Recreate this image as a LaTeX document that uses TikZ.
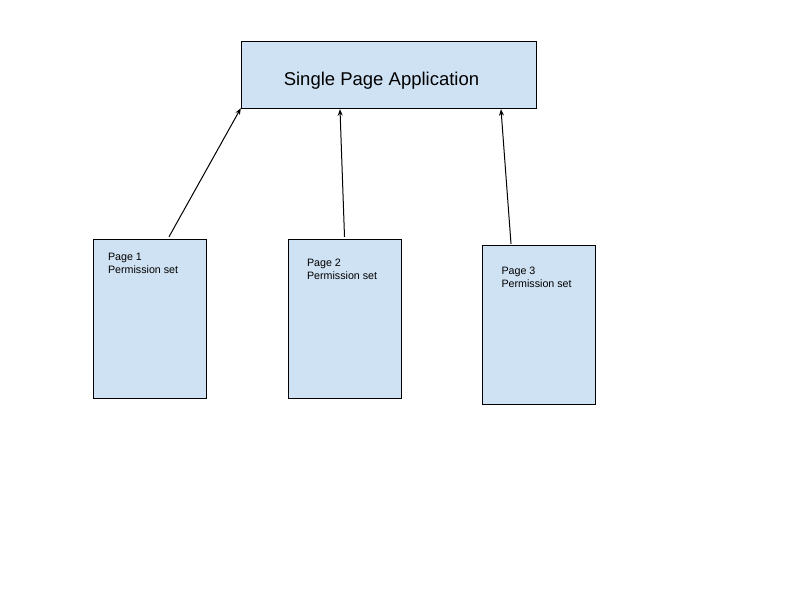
\documentclass[tikz,border=0pt]{standalone}
\usepackage{fontspec}
\setmainfont{Liberation Sans}
\usepackage{xcolor}
\usepackage{tikz}
\usetikzlibrary{arrows.meta, positioning}

\definecolor{boxblue}{HTML}{CFE2F3}

\begin{document}
\begin{tikzpicture}[
    x=1pt, y=-1pt,
    app/.style={rectangle, draw=black, thin, fill=boxblue, minimum width=295pt, minimum height=67pt, inner sep=0pt},
    apptext/.style={anchor=center, inner sep=0pt, font=\fontsize{18.5}{22}\selectfont},
    page/.style={rectangle, draw=black, thin, fill=boxblue, minimum width=113pt, minimum height=159pt, inner sep=0pt},
    pagetext/.style={anchor=north west, inner sep=0pt, align=left, font=\fontsize{10.7}{13}\selectfont},
    arrow/.style={line width=1pt, -{Stealth[length=6.5pt, width=5pt]}}
]

% Page size
\useasboundingbox (0,0) rectangle (800,600);

% ===== APPLICATION =====
\node[app, label={[apptext, xshift=-7pt, yshift=-6pt]center:Single Page Application}] (spa) at (388.5, 74.5) {};

% ===== PAGES =====
\node[page, label={[pagetext, xshift=15pt, yshift=-14pt]north west:Page 1\\Permission set}] (p1) at (149.5, 318.5) {};
\node[page, label={[pagetext, xshift=19pt, yshift=-20pt]north west:Page 2\\Permission set}] (p2) at (344.5, 318.5) {};
\node[page, label={[pagetext, xshift=19pt, yshift=-22pt]north west:Page 3\\Permission set}] (p3) at (539, 324.5) {};

% ===== CONNECTIONS =====
\draw[arrow] ([xshift=19.5pt, yshift=2pt]p1.north) -- (spa.south west);
\draw[arrow] ([yshift=2pt]p2.north) -- ([xshift=-48.5pt, yshift=-1pt]spa.south);
\draw[arrow] ([xshift=-28pt, yshift=1pt]p3.north) -- ([xshift=112.5pt, yshift=-1pt]spa.south);

\end{tikzpicture}
\end{document}
